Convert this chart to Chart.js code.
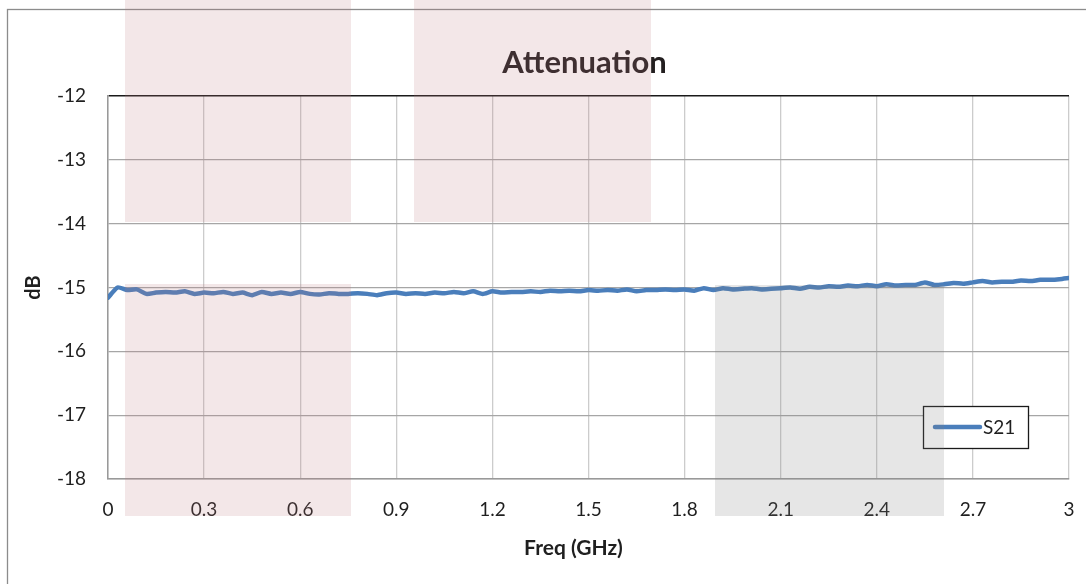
<!DOCTYPE html>
<html>
<head>
<meta charset="utf-8">
<script src="https://cdn.jsdelivr.net/npm/chart.js@4/dist/chart.umd.min.js"></script>
<style>
html,body{margin:0;padding:0;background:#fff;}
#wrap{width:1086px;height:584px;position:relative;}
</style>
</head>
<body>
<div id="wrap"><canvas id="c"></canvas></div>
<script>
// ---- data ----
const seriesName = "S21";
const freqGHz = [
 0.00,0.03,0.06,0.09,0.12,0.15,0.18,0.21,0.24,0.27,
 0.30,0.33,0.36,0.39,0.42,0.45,0.48,0.51,0.54,0.57,
 0.60,0.63,0.66,0.69,0.72,0.75,0.78,0.81,0.84,0.87,
 0.90,0.93,0.96,0.99,1.02,1.05,1.08,1.11,1.14,1.17,
 1.20,1.23,1.26,1.29,1.32,1.35,1.38,1.41,1.44,1.47,
 1.50,1.53,1.56,1.59,1.62,1.65,1.68,1.71,1.74,1.77,
 1.80,1.83,1.86,1.89,1.92,1.95,1.98,2.01,2.04,2.07,
 2.10,2.13,2.16,2.19,2.22,2.25,2.28,2.31,2.34,2.37,
 2.40,2.43,2.46,2.49,2.52,2.55,2.58,2.61,2.64,2.67,
 2.70,2.73,2.76,2.79,2.82,2.85,2.88,2.91,2.94,2.97,
 3.00];
const s21dB = [
 -15.16,-15.00,-15.04,-15.03,-15.10,-15.08,-15.07,-15.08,-15.06,-15.10,
 -15.08,-15.09,-15.07,-15.10,-15.08,-15.12,-15.07,-15.10,-15.08,-15.10,
 -15.07,-15.10,-15.11,-15.09,-15.10,-15.10,-15.09,-15.10,-15.12,-15.09,
 -15.08,-15.10,-15.09,-15.10,-15.08,-15.09,-15.07,-15.09,-15.06,-15.10,
 -15.06,-15.08,-15.07,-15.07,-15.06,-15.07,-15.05,-15.06,-15.05,-15.06,
 -15.04,-15.05,-15.04,-15.05,-15.03,-15.06,-15.04,-15.04,-15.03,-15.04,
 -15.03,-15.05,-15.01,-15.04,-15.01,-15.03,-15.02,-15.01,-15.03,-15.02,
 -15.01,-15.00,-15.02,-14.99,-15.00,-14.98,-14.99,-14.97,-14.98,-14.96,
 -14.98,-14.95,-14.97,-14.96,-14.96,-14.92,-14.96,-14.95,-14.93,-14.94,
 -14.92,-14.90,-14.92,-14.91,-14.91,-14.89,-14.90,-14.88,-14.88,-14.87,
 -14.85];
const xTicks = { min: 0, max: 3, step: 0.3 };
const yTicks = { min: -18, max: -12, step: 1 };
const titleText = "Attenuation";
const xTitle = "Freq (GHz)";
const yTitle = "dB";

// ---- decoration (translucent highlight boxes, canvas pixel space) ----
const overlays = [
  { x0: 125, y0: 0,   x1: 351, y1: 222, color: 'rgba(190,120,125,0.18)' },
  { x0: 125, y0: 284, x1: 351, y1: 516, color: 'rgba(190,120,125,0.18)' },
  { x0: 414, y0: 0,   x1: 651, y1: 222, color: 'rgba(190,120,125,0.18)' },
  { x0: 715, y0: 285, x1: 944, y1: 516, color: 'rgba(128,128,128,0.20)' }
];

const FONT = "Lato, 'Liberation Sans', sans-serif";
const TXT = '#1f1f1f';
const TITLE_COLOR = '#231f20';
const LINE_COLOR = '#4a7ebb';

const framePlugin = {
  id: 'frame',
  beforeDraw(chart) {
    const ctx = chart.ctx;
    ctx.save();
    ctx.fillStyle = '#fff';
    ctx.fillRect(0, 0, chart.width, chart.height);
    ctx.strokeStyle = '#8c8c8c';
    ctx.lineWidth = 1.3;
    ctx.strokeRect(7.5, 9.5, chart.width + 10, chart.height + 10);
    ctx.restore();
  },
  afterDraw(chart) {
    const ctx = chart.ctx;
    const ca = chart.chartArea;
    ctx.save();
    ctx.textAlign = 'center';
    ctx.textBaseline = 'middle';
    // chart title
    ctx.fillStyle = TITLE_COLOR;
    ctx.font = "bold 31px " + FONT;
    ctx.fillText(titleText, (ca.left + ca.right) / 2 - 4, 63);
    // x axis title
    ctx.fillStyle = TXT;
    ctx.font = "bold 21px " + FONT;
    ctx.fillText(xTitle, (ca.left + ca.right) / 2 - 15, 548);
    // custom legend
    const ds = chart.data.datasets[0];
    ctx.fillStyle = '#fff';
    ctx.fillRect(923, 406, 105, 42);
    ctx.strokeStyle = '#1a1a1a';
    ctx.lineWidth = 1.3;
    ctx.strokeRect(923.5, 406.5, 105, 42);
    ctx.strokeStyle = ds.borderColor;
    ctx.lineWidth = 4.5;
    ctx.lineCap = 'round';
    ctx.beginPath();
    ctx.moveTo(935, 427);
    ctx.lineTo(980, 427);
    ctx.stroke();
    ctx.fillStyle = TXT;
    ctx.font = "19px " + FONT;
    ctx.textAlign = 'left';
    ctx.fillText(ds.label, 983, 428);
    // overlays
    overlays.forEach(o => {
      ctx.fillStyle = o.color;
      ctx.fillRect(o.x0, o.y0, o.x1 - o.x0, o.y1 - o.y0);
    });
    ctx.restore();
  }
};

new Chart(document.getElementById('c'), {
  type: 'line',
  data: {
    datasets: [{
      label: seriesName,
      data: freqGHz.map((f, i) => ({ x: f, y: s21dB[i] })),
      borderColor: LINE_COLOR,
      backgroundColor: LINE_COLOR,
      borderWidth: 4.5,
      pointRadius: 0,
      tension: 0.2,
      borderJoinStyle: 'round',
      borderCapStyle: 'round'
    }]
  },
  options: {
    responsive: true,
    maintainAspectRatio: false,
    animation: false,
    layout: { padding: { left: 18, right: 17, top: 96, bottom: 0 } },
    plugins: {
      legend: { display: false },
      tooltip: { enabled: false },
      title: { display: false }
    },
    scales: {
      x: {
        type: 'linear',
        min: xTicks.min, max: xTicks.max,
        afterFit(s) { s.height = 105; },
        ticks: {
          stepSize: xTicks.step,
          color: TXT,
          font: { family: FONT, size: 19 },
          padding: 0,
          maxRotation: 0,
          callback: v => String(Number(v.toFixed(1)))
        },
        grid: { color: '#cccccc', lineWidth: 1.3, drawTicks: true, tickLength: 19, tickColor: 'rgba(0,0,0,0)' },
        border: { color: '#999999', width: 1.5 },
        title: { display: false }
      },
      y: {
        type: 'linear',
        min: yTicks.min, max: yTicks.max,
        afterFit(s) { s.width = 90; },
        ticks: {
          stepSize: yTicks.step,
          color: TXT,
          font: { family: FONT, size: 19 },
          padding: 22
        },
        grid: {
          color: ctx => (ctx.tick && ctx.tick.value === yTicks.max) ? '#1a1a1a' : '#a6a6a6',
          lineWidth: ctx => (ctx.tick && ctx.tick.value === yTicks.max) ? 1.6 : 1.3,
          drawTicks: false
        },
        border: { color: '#999999', width: 1.5 },
        title: {
          display: true, text: yTitle, color: TXT,
          font: { family: FONT, size: 20, weight: 'bold' },
          padding: { top: 4, bottom: 0 }
        }
      }
    }
  },
  plugins: [framePlugin]
});
</script>
</body>
</html>
